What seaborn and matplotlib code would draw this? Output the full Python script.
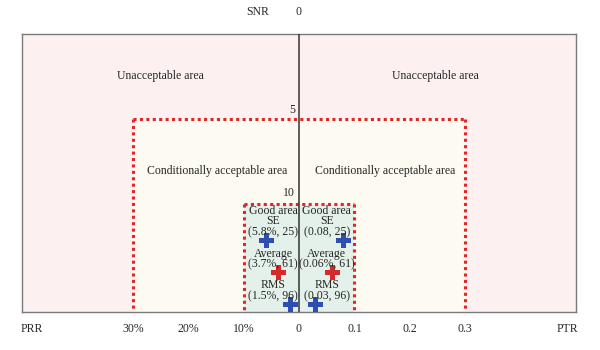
import matplotlib
matplotlib.use("Agg")
import matplotlib.pyplot as plt
import seaborn as sns
import pandas as pd
import numpy as np
from matplotlib.patches import Rectangle

# ---- data ----
metrics = ["SE", "Average", "RMS"]
prr_pct = [5.8, 3.7, 1.5]          # PRR (%)
ptr_val = [0.08, 0.06, 0.03]       # PTR
snr_val = [25, 61, 96]             # SNR
prr_labels = ["(5.8%, 25)", "(3.7%, 61)", "(1.5%, 96)"]
ptr_labels = ["(0.08, 25)", "(0.06%, 61)", "(0.03, 96)"]
metric_colors = ["#2f4fb0", "#d42a2a", "#2f4fb0"]

snr_levels = [0, 5, 10]            # unacceptable / conditional / good thresholds
prr_limits = [30, 10]              # %
ptr_limits = [0.3, 0.1]
area_names = ["Unacceptable area", "Conditionally acceptable area", "Good area"]

xtick_pos = [-0.482, -0.3, -0.2, -0.1, 0, 0.1, 0.2, 0.3, 0.484]
xtick_labels = ["PRR", "30%", "20%", "10%", "0", "0.1", "0.2", "0.3", "PTR"]

# ---- style ----
sns.set_theme(style="white")
plt.rcParams["font.family"] = ["Liberation Serif", "DejaVu Serif"]
FS = 8.5

fig = plt.figure(figsize=(6, 3.5), dpi=100)
ax = fig.add_axes([22/600, 1-312/350, 554/600, 278/350])
YMAX = 16.35
ax.set_xlim(-0.5, 0.5)
ax.set_ylim(YMAX, 0)

# compressed display of SNR inside the good area
def snr_disp(s):
    return 10.8 + 0.053 * np.asarray(s, dtype=float)

# background areas
ax.add_patch(Rectangle((-0.5, 0), 1.0, YMAX, facecolor="#fdf0f0", edgecolor="none", zorder=0))
cx = prr_limits[0] / 100
ax.add_patch(Rectangle((-cx, snr_levels[1]), cx + ptr_limits[0], YMAX - snr_levels[1],
                       facecolor="#fcfaf1", edgecolor="none", zorder=1))
gx = prr_limits[1] / 100
ax.add_patch(Rectangle((-gx, snr_levels[2]), gx + ptr_limits[1], YMAX - snr_levels[2],
                       facecolor="#e4f1ea", edgecolor="none", zorder=2))

red = "#e02626"
dot = dict(color=red, lw=2.2, linestyle=(0, (1, 1.1)), zorder=3, solid_capstyle="butt")
for lx, rx, ty in [(-cx, ptr_limits[0], snr_levels[1]), (-gx, ptr_limits[1], snr_levels[2])]:
    ax.plot([lx, rx], [ty, ty], **dot)
    ax.plot([lx, lx], [ty, YMAX], **dot)
    ax.plot([rx, rx], [ty, YMAX], **dot)

# center axis line
ax.axvline(0, color="#333333", lw=1.1, zorder=4)

for sp in ax.spines.values():
    sp.set_color("#7a7a7a")
    sp.set_linewidth(1.0)

# markers
df = pd.DataFrame({
    "metric": metrics * 2,
    "x": [-p / 100 for p in prr_pct] + ptr_val,
    "y": list(snr_disp(snr_val)) * 2,
})
sns.scatterplot(data=df, x="x", y="y", hue="metric", palette=dict(zip(metrics, metric_colors)),
                marker="P", s=120, edgecolor="none", legend=False, ax=ax, zorder=6)

# labels in good area (one multi-line text per block)
LS = 0.85
for i, (m, s) in enumerate(zip(metrics, snr_val)):
    yd = float(snr_disp(s))
    for xc, val in [(-0.047, prr_labels[i]), (0.05, ptr_labels[i])]:
        txt = f"{m}\n{val}"
        if i == 0:
            txt = f"{area_names[2]}\n" + txt
        ax.text(xc, yd - 0.12, txt, ha="center", va="bottom", fontsize=FS,
                linespacing=LS, zorder=7)

ax.text(-0.251, 2.47, area_names[0], ha="center", va="center", fontsize=FS)
ax.text(0.247, 2.47, area_names[0], ha="center", va="center", fontsize=FS)
ax.text(-0.148, 8.06, area_names[1], ha="center", va="center", fontsize=FS)
ax.text(0.155, 8.06, area_names[1], ha="center", va="center", fontsize=FS)

ax.text(-0.013, 4.47, str(snr_levels[1]), ha="center", va="center", fontsize=FS)
ax.text(-0.018, 9.35, str(snr_levels[2]), ha="center", va="center", fontsize=FS)
ax.text(-0.074, -1.3, "SNR", ha="center", va="center", fontsize=FS, clip_on=False)
ax.text(0.0, -1.3, str(snr_levels[0]), ha="center", va="center", fontsize=FS, clip_on=False)

ax.set_xticks(xtick_pos)
ax.set_xticklabels(xtick_labels, fontsize=FS)
ax.tick_params(axis="x", length=0, pad=8)
ax.set_yticks([])
ax.set_xlabel("")
ax.set_ylabel("")

fig.savefig("out.png", dpi=100)
